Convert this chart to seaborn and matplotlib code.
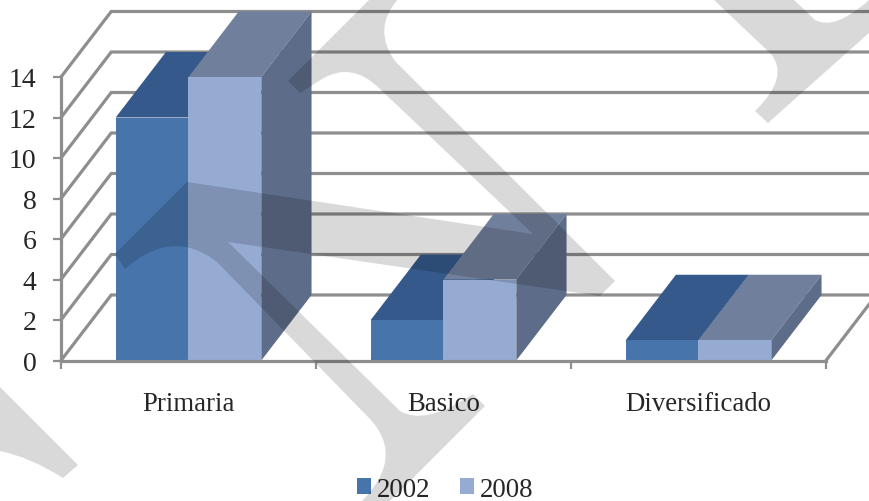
import matplotlib
matplotlib.use("Agg")
import matplotlib.pyplot as plt
import pandas as pd
import seaborn as sns
from matplotlib.patches import PathPatch, Polygon
from matplotlib.path import Path

categories = ["Primaria", "Basico", "Diversificado"]
values_2002 = [12, 2, 1]
values_2008 = [14, 4, 1]
series_names = ["2002", "2008"]
y_ticks = [0, 2, 4, 6, 8, 10, 12, 14]

front_colors = ["#4674AB", "#95ABD2"]
top_colors = ["#34598A", "#70809C"]
side_colors = ["#2F4F7A", "#5D6C88"]
line_color = "#8E8E8E"

# depth of the fake 3d box, in data units (x = categories, y = values)
depth_x = 0.197
depth_y = 3.235

df = pd.DataFrame({
    "nivel": categories * 2,
    "valor": values_2002 + values_2008,
    "serie": [series_names[0]] * 3 + [series_names[1]] * 3,
})

sns.set_style("white")
plt.rcParams["font.family"] = ["Liberation Serif", "DejaVu Serif"]

fig = plt.figure(figsize=(8.7, 5.02), dpi=100)
ax = fig.add_axes([61 / 870, (502 - 361.5) / 502, 765 / 870, 283.5 / 502])
ax.patch.set_alpha(0)

sns.barplot(data=df, x="nivel", y="valor", hue="serie", palette=front_colors,
            width=0.571, gap=0, saturation=1, ax=ax, zorder=5, linewidth=0)

ax.set_xlim(-0.5, 2.5)
ax.set_ylim(0, 14)
ax.set_xlabel("")
ax.set_ylabel("")

# back wall, side wall and floor edge
x0, x1 = ax.get_xlim()
for v in y_ticks:
    ax.plot([x0, x0 + depth_x, x1 + depth_x], [v, v + depth_y, v + depth_y],
            color=line_color, lw=2.3, clip_on=False, zorder=1, solid_joinstyle="miter")
ax.plot([x1, x1 + depth_x], [0, depth_y], color=line_color, lw=2.3, clip_on=False, zorder=1)

# top and side faces of each bar
for i, container in enumerate(ax.containers):
    for bar in container:
        left = bar.get_x()
        right = left + bar.get_width()
        h = bar.get_height()
        top = [(left, h), (right, h), (right + depth_x, h + depth_y), (left + depth_x, h + depth_y)]
        side = [(right, 0), (right, h), (right + depth_x, h + depth_y), (right + depth_x, depth_y)]
        ax.add_patch(Polygon(top, color=top_colors[i], lw=0, clip_on=False, zorder=2 + i))
        ax.add_patch(Polygon(side, color=side_colors[i], lw=0, clip_on=False, zorder=2 + i))

for name in ["top", "right"]:
    ax.spines[name].set_visible(False)
for name in ["left", "bottom"]:
    ax.spines[name].set_color(line_color)
    ax.spines[name].set_linewidth(2.3)
    ax.spines[name].set_zorder(6)

ax.set_yticks(y_ticks)
ax.tick_params(axis="y", left=True, length=5.8, width=1.6, color=line_color, labelsize=20, pad=11.8)
ax.set_xticks(range(3))
ax.set_xticklabels(categories)
ax.tick_params(axis="x", which="major", bottom=False, labelsize=19.3, pad=18.3)
ax.set_xticks([-0.5, 0.5, 1.5, 2.5], minor=True)
ax.tick_params(axis="x", which="minor", bottom=True, length=5.8, width=1.6, color=line_color)

handles, labels = ax.get_legend_handles_labels()
ax.legend(handles, labels, loc="center", bbox_to_anchor=(445 / 870, 1 - 490.5 / 502),
          bbox_transform=fig.transFigure, ncol=2, frameon=False, fontsize=19.4,
          handlelength=0.54, handleheight=0.54, handletextpad=0.2, columnspacing=1.09,
          borderpad=0, borderaxespad=0)

# grey watermark on top of everything, pixel coordinates of the page
over = fig.add_axes([0, 0, 1, 1])
over.set_xlim(0, 870)
over.set_ylim(502, 0)
over.axis("off")
over.patch.set_alpha(0)

M, L, C = Path.MOVETO, Path.LINETO, Path.CURVE3
big_mark = [
    (M, (187, 183)), (L, (533, 235)), (L, (380, 90)), (C, (352, 62)), (C, (322, 80)),
    (L, (300, 94)), (L, (288, 82)), (L, (370, 0)), (L, (398, 0)),
    (C, (372, 30)), (C, (395, 62)), (L, (615, 282)), (L, (600, 297)), (L, (228, 243)),
    (L, (400, 412)), (C, (425, 427)), (C, (473, 395)), (L, (485, 407)), (L, (390, 502)),
    (L, (362, 502)), (C, (405, 458)), (C, (370, 420)), (L, (217, 263)),
    (C, (172, 228)), (C, (125, 270)), (L, (115, 255)), (L, (187, 183)),
]
top_mark = [
    (M, (713, 0)), (L, (771, 55)), (C, (790, 78)), (C, (755, 112)), (L, (768, 124)),
    (L, (870, 33)), (L, (870, 0)), (C, (835, 32)), (C, (815, 21)), (L, (793, 0)), (L, (713, 0)),
]
left_mark = [
    (M, (0, 388)), (L, (78, 466)), (L, (63, 479)), (C, (30, 458)), (C, (0, 452)), (L, (0, 388)),
]
for mark in [big_mark, top_mark, left_mark]:
    codes = [m[0] for m in mark]
    verts = [m[1] for m in mark]
    over.add_patch(PathPatch(Path(verts, codes), facecolor="black", alpha=0.15, lw=0))

fig.savefig("out.png", dpi=100)
